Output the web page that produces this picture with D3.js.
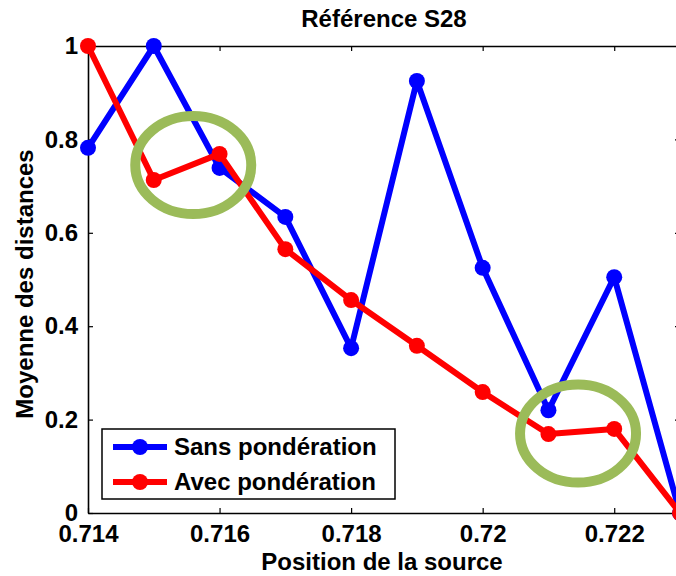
<!DOCTYPE html>
<html><head><meta charset="utf-8">
<script src="https://cdn.jsdelivr.net/npm/d3@7"></script>
<style>body{margin:0;background:#fff}svg{display:block}text{font-family:"Liberation Sans",Arial,sans-serif;font-weight:bold;fill:#000}</style>
</head><body><svg id="c" width="676" height="576"></svg>
<script>
const positions = [0.714,0.715,0.716,0.717,0.718,0.719,0.720,0.721,0.722,0.723];
const sansPonderation = [0.782,1.0,0.739,0.634,0.353,0.925,0.525,0.22,0.505,0.0];
const avecPonderation = [1.0,0.713,0.769,0.565,0.456,0.358,0.259,0.169,0.18,0.0];
const xTicks = [0.714,0.716,0.718,0.72,0.722];
const xTickLabels = ["0.714","0.716","0.718","0.72","0.722"];
const yTicks = [0,0.2,0.4,0.6,0.8,1];
const yTickLabels = ["0","0.2","0.4","0.6","0.8","1"];
const seriesNames = ["Sans pondération","Avec pondération"];
const seriesColors = ["#0000ff","#ff0000"];
const highlights = [[0.7156,0.745],[0.72145,0.17]];

const svg = d3.select("#c");
const L=88,R=680,T=46,B=513;
const x = d3.scaleLinear().domain([0.714,0.723]).range([L,R]);
const y = d3.scaleLinear().domain([0,1]).range([B,T]);

// axes box
const g = svg.append("g");
const fmt = (arr)=> (d,i)=>arr[i];
g.append("g").attr("transform",`translate(0,${B})`).call(d3.axisBottom(x).tickValues(xTicks).tickSizeInner(-5).tickSizeOuter(0).tickPadding(12).tickFormat(fmt(xTickLabels)));
g.append("g").attr("transform",`translate(0,${T})`).call(d3.axisTop(x).tickValues(xTicks).tickSizeInner(-5).tickSizeOuter(0).tickFormat(""));
g.append("g").attr("transform",`translate(${L},0)`).call(d3.axisLeft(y).tickValues(yTicks).tickSizeInner(-5).tickSizeOuter(0).tickPadding(10).tickFormat(fmt(yTickLabels)));
g.append("g").attr("transform",`translate(${R},0)`).call(d3.axisRight(y).tickValues(yTicks).tickSizeInner(-5).tickSizeOuter(0).tickFormat(""));
g.selectAll(".domain").attr("stroke","#000").attr("stroke-width",1.6);
g.selectAll(".tick line").attr("stroke","#000").attr("stroke-width",1.2);
g.selectAll(".tick text").attr("font-size",24).attr("font-weight","bold").attr("fill","#000").attr("font-family",'"Liberation Sans",Arial,sans-serif');

// series
const line = d3.line().x((d,i)=>x(positions[i])).y(d=>y(d));
[sansPonderation,avecPonderation].forEach((s,k)=>{
  svg.append("path").datum(s).attr("d",line).attr("fill","none").attr("stroke",seriesColors[k]).attr("stroke-width",6).attr("stroke-linejoin","round");
  svg.append("g").selectAll("circle").data(s).join("circle").attr("cx",(d,i)=>x(positions[i])).attr("cy",d=>y(d)).attr("r",8).attr("fill",seriesColors[k]);
});

// highlight ellipses
svg.append("g").selectAll("ellipse").data(highlights).join("ellipse")
  .attr("cx",d=>x(d[0])).attr("cy",d=>y(d[1])).attr("rx",58).attr("ry",49)
  .attr("fill","none").attr("stroke","#9bbb59").attr("stroke-width",10);

// legend
const lg = svg.append("g");
lg.append("rect").attr("x",102).attr("y",429).attr("width",293).attr("height",70).attr("fill","#fff").attr("stroke","#000").attr("stroke-width",1.5);
seriesNames.forEach((n,k)=>{
  const yy = 447 + k*35;
  lg.append("line").attr("x1",113).attr("x2",167).attr("y1",yy).attr("y2",yy).attr("stroke",seriesColors[k]).attr("stroke-width",6);
  lg.append("circle").attr("cx",140).attr("cy",yy).attr("r",8).attr("fill",seriesColors[k]);
  lg.append("text").attr("x",174).attr("y",yy+8).attr("font-size",24).text(n);
});

// titles
svg.append("text").attr("x",384).attr("y",27).attr("text-anchor","middle").attr("font-size",24).text("Référence S28");
svg.append("text").attr("x",382).attr("y",570).attr("text-anchor","middle").attr("font-size",24).text("Position de la source");
svg.append("text").attr("transform","translate(33,284) rotate(-90)").attr("text-anchor","middle").attr("font-size",24).text("Moyenne des distances");
</script></body></html>
